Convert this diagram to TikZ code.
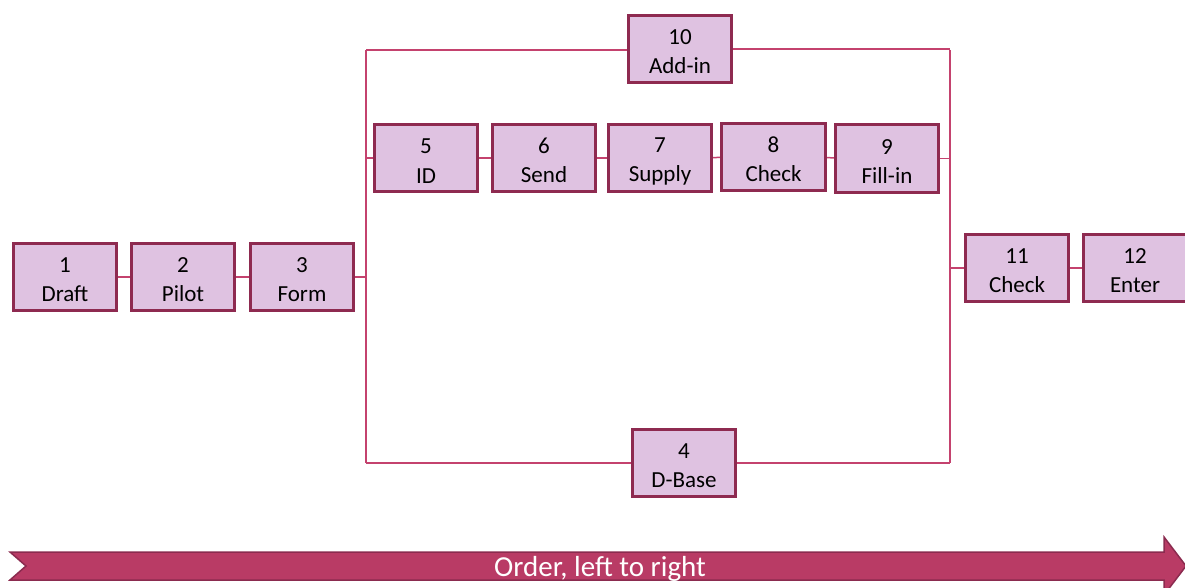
\documentclass[tikz,border=0pt]{standalone}
\usepackage{fontspec}
\setmainfont{Carlito}
\usetikzlibrary{backgrounds}
\definecolor{boxfill}{HTML}{DFC2E1}
\definecolor{boxline}{HTML}{8E2A50}
\definecolor{wire}{HTML}{C4426E}
\definecolor{bandfill}{HTML}{B93B65}
\definecolor{bandline}{HTML}{8B2B4F}
% two-line step caption, with a little extra room above the number
\newcommand{\stepcaption}[2]{\rule{0pt}{21pt}#1\\#2}
\tikzset{
  stepbox/.style={rectangle, draw=boxline, line width=2.6pt, fill=boxfill,
    minimum width=103.5pt, minimum height=67.5pt, inner sep=0pt,
    align=center, font=\fontsize{23}{29}\selectfont},
  wireline/.style={draw=wire, line width=1.5pt},
}
\begin{document}
\begin{tikzpicture}[x=1pt, y=-1pt]
  \clip (0,0) rectangle (1185,588);

  % process steps
  \node[stepbox] (n1)  at (65,277)    {\stepcaption{1}{Draft}};
  \node[stepbox] (n2)  at (183,277)   {\stepcaption{2}{Pilot}};
  \node[stepbox] (n3)  at (302,277)   {\stepcaption{3}{Form}};
  \node[stepbox] (n5)  at (426,158)   {\stepcaption{5}{ID}};
  \node[stepbox] (n6)  at (544,158)   {\stepcaption{6}{Send}};
  \node[stepbox] (n7)  at (660,158)   {\stepcaption{7}{Supply}};
  \node[stepbox] (n8)  at (773.5,157) {\stepcaption{8}{Check}};
  \node[stepbox] (n9)  at (887,158.5) {\stepcaption{9}{Fill-in}};
  \node[stepbox] (n10) at (680,49)    {\stepcaption{10}{Add-in}};
  \node[stepbox] (n4)  at (684,463)   {\stepcaption{4}{D-Base}};
  \node[stepbox] (n11) at (1017,268)  {\stepcaption{11}{Check}};
  \node[stepbox] (n12) at (1135,268)  {\stepcaption{12}{Enter}};

  % branch and merge buses
  \coordinate (lt) at (366,50);
  \coordinate (lb) at (366,463);
  \coordinate (rt) at (950,50);
  \coordinate (rb) at (950,463);

  \begin{scope}[on background layer]
    \draw[wireline] (n1) -- (n2);
    \draw[wireline] (n2) -- (n3);
    \draw[wireline] (n3) -- (n3 -| lb);
    \draw[wireline] (lt) -- (lb);
    \draw[wireline] (rt) -- (rb);
    \draw[wireline] (lt) -- (lt -| n10.west);
    \draw[wireline] (n10) -- (n10 -| rt);
    \draw[wireline] (lb) -- (lb -| n4.west);
    \draw[wireline] (n4) -- (n4 -| rb);
    \draw[wireline] (n5 -| lb) -- (n5);
    \draw[wireline] (n5) -- (n6);
    \draw[wireline] (n6) -- (n7);
    \draw[wireline] (n7) -- (n8);
    \draw[wireline] (n8) -- (n9);
    \draw[wireline] (n9) -- (n9 -| rt);
    \draw[wireline] (n11 -| rt) -- (n11);
    \draw[wireline] (n11) -- (n12);
  \end{scope}

  % direction band
  \draw[fill=bandfill, draw=bandline, line width=1.5pt, line join=miter]
    (10,552) -- (1164,552) -- (1164,537) -- (1186,566) -- (1164,595)
    -- (1164,580) -- (10,580) -- (26,566) -- cycle;
  \node[text=white, font=\fontsize{29}{34}\selectfont, inner sep=0pt]
    (order) at (600,569) {Order, left to right};
\end{tikzpicture}
\end{document}
